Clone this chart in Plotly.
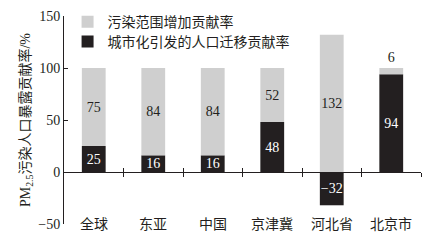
import plotly.graph_objects as go

categories = ["全球", "东亚", "中国", "京津冀", "河北省", "北京市"]
urban_migration = [25, 16, 16, 48, -32, 94]
pollution_range = [75, 84, 84, 52, 132, 6]
y_ticks = [-50, 0, 50, 100, 150]
y_tick_text = ["−50", "0", "50", "100", "150"]

FONT = "Liberation Serif, Noto Sans CJK SC, serif"
x_pos = list(range(len(categories)))

fig = go.Figure()
fig.add_trace(go.Bar(
    x=x_pos, y=urban_migration, name="城市化引发的人口迁移贡献率",
    marker=dict(color="#231f20", line=dict(width=0)), width=0.4,
    text=[str(v).replace("-", "−") for v in urban_migration],
    textposition="inside", insidetextanchor="middle", textangle=0,
    constraintext="none",
    textfont=dict(color="white", size=14, family=FONT),
    cliponaxis=False, legend="legend2",
))
fig.add_trace(go.Bar(
    x=x_pos, y=pollution_range, name="污染范围增加贡献率",
    marker=dict(color="#cfcfcf", line=dict(width=0)), width=0.4,
    text=[str(v) for v in pollution_range],
    textposition=["inside" if v > 10 else "outside" for v in pollution_range],
    insidetextanchor="middle", textangle=0, constraintext="none",
    textfont=dict(color="#231f20", size=14, family=FONT),
    outsidetextfont=dict(color="#231f20", size=14, family=FONT),
    cliponaxis=False, legend="legend",
))

for i, c in enumerate(categories):
    fig.add_annotation(x=i, y=-50, xref="x", yref="y", text=c, showarrow=False,
                       yanchor="middle", xanchor="center",
                       font=dict(size=14, family=FONT, color="#231f20"))

legend_common = dict(x=0.01, xanchor="left", yanchor="middle",
                     bgcolor="rgba(0,0,0,0)", font=dict(size=14, family=FONT),
                     itemwidth=30)

fig.update_layout(
    width=432, height=243,
    margin=dict(l=64, r=11, t=16, b=19, autoexpand=False),
    barmode="relative",
    plot_bgcolor="white", paper_bgcolor="white",
    font=dict(family=FONT, color="#231f20", size=14),
    showlegend=True,
    legend=dict(y=0.971, **legend_common),
    legend2=dict(y=0.875, **legend_common),
    xaxis=dict(range=[-0.5, 5.5], anchor="free", position=0.25,
               showline=True, linecolor="#231f20", linewidth=1,
               tickvals=[0.5, 1.5, 2.5, 3.5, 4.5, 5.5], ticks="outside",
               ticklen=4, tickcolor="#231f20", showticklabels=False,
               showgrid=False, zeroline=False),
    xaxis2=dict(range=[-0.5, 5.5], anchor="free", position=0.25,
                overlaying="x", showline=False,
                tickvals=[0.5, 1.5, 2.5, 3.5, 4.5, 5.5], ticks="inside",
                ticklen=4, tickcolor="#231f20", showticklabels=False,
                showgrid=False, zeroline=False),
    yaxis=dict(range=[-50, 150], tickvals=y_ticks, ticktext=y_tick_text,
               ticks="inside", ticklen=4, tickcolor="#231f20",
               showline=True, linecolor="#231f20", linewidth=1,
               showgrid=False, zeroline=False,
               tickfont=dict(size=14, family=FONT),
               title=dict(text="PM<sub>2.5</sub>污染人口暴露贡献率/%",
                          font=dict(size=14, family=FONT), standoff=4)),
)
fig.add_trace(go.Scatter(x=[0], y=[0], xaxis="x2", mode="markers",
                         marker=dict(opacity=0), showlegend=False, hoverinfo="skip"))

fig.write_html("out.html")
